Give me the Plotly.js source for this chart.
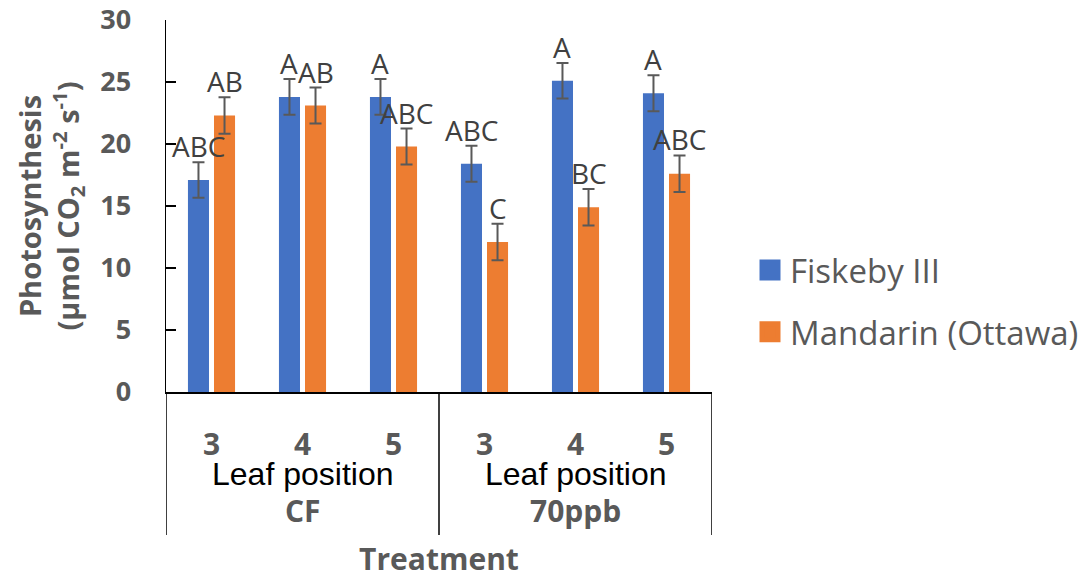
<!DOCTYPE html>
<html><head><meta charset="utf-8">
<script src="https://cdn.plot.ly/plotly-3.0.1.min.js"></script>
<style>html,body{margin:0;padding:0;background:#fff}</style>
</head><body><div id="chart" style="width:1084px;height:579px"></div>
<script>
const treatments = ["CF", "70ppb"];
const leafPositions = ["3", "4", "5"];
const categories = ["CF 3", "CF 4", "CF 5", "70ppb 3", "70ppb 4", "70ppb 5"];
const tickLabels = ["3", "4", "5", "3", "4", "5"];
const seriesNames = ["Fiskeby III", "Mandarin (Ottawa)"];
const fiskeby = [17.1, 23.8, 23.8, 18.4, 25.1, 24.1];
const fiskebyErr = [1.43, 1.45, 1.45, 1.45, 1.43, 1.45];
const mandarin = [22.3, 23.1, 19.8, 12.1, 14.9, 17.6];
const mandarinErr = [1.48, 1.45, 1.45, 1.47, 1.48, 1.48];
const fiskebyLetters = ["ABC", "A", "A", "ABC", "A", "A"];
const mandarinLetters = ["AB", "AB", "ABC", "C", "BC", "ABC"];
const groupSubtitle = "Leaf position";

const colors = ["#4472C4", "#ED7D31"];
const M = {l: 166, r: 372, t: 20, b: 187};
const W = 1084, H = 579;
const bargap = 0.4275, bargroupgap = 0.192;
const plotW = W - M.l - M.r, plotH = H - M.t - M.b;
const catW = plotW / categories.length;
const shift = (1 - bargap) * catW / 4;

const gray = "#595959";
const boldFont = {family: "Open Sans, sans-serif", size: 30, color: gray, weight: 700};

const errStyle = {type: "data", visible: true, color: gray, thickness: 2, width: 6};

const traces = [
  {type: "bar", x: categories, y: fiskeby, name: seriesNames[0], marker: {color: colors[0]},
   error_y: Object.assign({array: fiskebyErr}, errStyle), showlegend: false, hoverinfo: "y"},
  {type: "bar", x: categories, y: mandarin, name: seriesNames[1], marker: {color: colors[1]},
   error_y: Object.assign({array: mandarinErr}, errStyle), showlegend: false, hoverinfo: "y"},
  {type: "scatter", x: [null], y: [null], mode: "markers", name: seriesNames[0], legendgroup: "a",
   marker: {symbol: "square", size: 16, color: colors[0], line: {color: colors[0], width: 5}}, hoverinfo: "skip"},
  {type: "scatter", x: [null], y: [null], mode: "markers", name: seriesNames[1], legendgroup: "b",
   marker: {symbol: "square", size: 16, color: colors[1], line: {color: colors[1], width: 5}}, hoverinfo: "skip"}
];

const annotations = [];
const letterFont = {family: "Open Sans, sans-serif", size: 28, color: "#404040"};
categories.forEach((c, i) => {
  annotations.push({x: c, y: fiskeby[i] + fiskebyErr[i], xref: "x", yref: "y", text: fiskebyLetters[i],
    showarrow: false, xshift: -shift, yanchor: "bottom", yshift: -5, font: letterFont});
  annotations.push({x: c, y: mandarin[i] + mandarinErr[i], xref: "x", yref: "y", text: mandarinLetters[i],
    showarrow: false, xshift: shift, yanchor: "bottom", yshift: -5, font: letterFont});
});
const shapes = [];
const n = leafPositions.length;
treatments.forEach((g, gi) => {
  const mid = gi * n + (n - 1) / 2;
  annotations.push({x: mid, y: -(474 - 392) / plotH, xref: "x", yref: "paper", text: groupSubtitle,
    showarrow: false, yanchor: "middle",
    font: {family: "Liberation Sans, Arial, sans-serif", size: 32, color: "#000"}});
  annotations.push({x: mid, y: -(510 - 392) / plotH, xref: "x", yref: "paper", text: g,
    showarrow: false, yanchor: "middle", font: boldFont});
});
for (let gi = 0; gi <= treatments.length; gi++) {
  const xb = gi * n - 0.5;
  shapes.push({type: "line", xref: "x", yref: "paper", x0: xb, x1: xb, y0: 0, y1: -(535 - 392) / plotH,
    line: {color: "#000", width: 1.5}});
}

const layout = {
  width: W, height: H,
  margin: M,
  paper_bgcolor: "#fff", plot_bgcolor: "#fff",
  barmode: "group", bargap: bargap, bargroupgap: bargroupgap,
  showlegend: true,
  legend: {xref: "container", yref: "container", x: 750 / W, xanchor: "left", y: 1 - 242 / H, yanchor: "top",
    font: {family: "Open Sans, sans-serif", size: 33, color: gray}, traceorder: "grouped",
    tracegroupgap: 16, itemsizing: "trace", bgcolor: "rgba(0,0,0,0)"},
  xaxis: {type: "category", categoryarray: categories, categoryorder: "array",
    tickvals: categories, ticktext: tickLabels, ticks: "", showline: true, linecolor: "#000", linewidth: 1.5,
    showgrid: false, zeroline: false, tickfont: boldFont, ticklabelstandoff: 25,
    title: {text: "Treatment", font: boldFont, standoff: 92}, automargin: false,
    range: [-0.5, categories.length - 0.5]},
  yaxis: {range: [0, 30], dtick: 5, tick0: 0, ticks: "inside", ticklen: 10, tickwidth: 1.5, tickcolor: "#000",
    showline: true, linecolor: "#000", linewidth: 1.5, showgrid: false, zeroline: false,
    tickfont: {family: "Open Sans, sans-serif", size: 27, color: gray, weight: 700}, ticklabelstandoff: 28,
    title: {text: "Photosynthesis<br>(μmol CO<sub>2</sub> m<sup>-2</sup> s<sup>-1</sup>)",
      font: {family: "Open Sans, sans-serif", size: 29, color: gray, weight: 700}, standoff: 12},
    automargin: false},
  annotations: annotations,
  shapes: shapes
};

Plotly.newPlot("chart", traces, layout, {displayModeBar: false, staticPlot: true});
</script></body></html>
